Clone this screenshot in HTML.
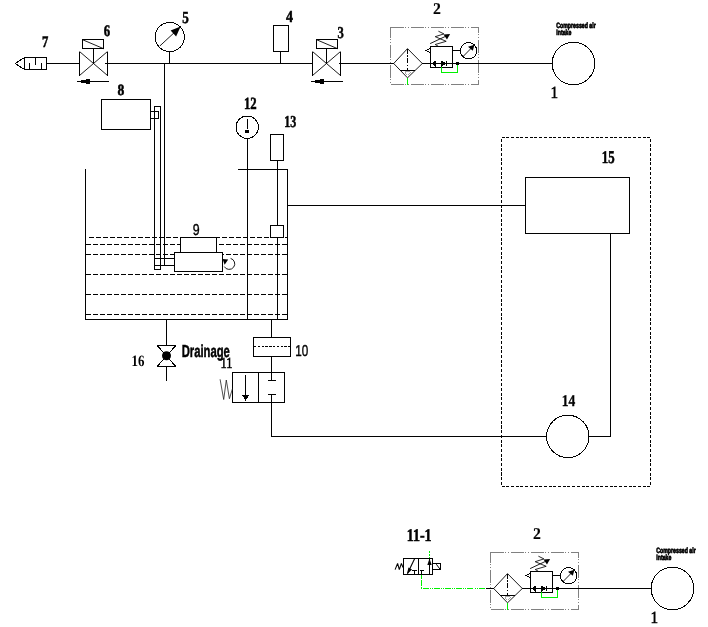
<!DOCTYPE html>
<html>
<head>
<meta charset="utf-8">
<title>Diagram</title>
<style>
html,body{margin:0;padding:0;background:#fff;}
body{width:708px;height:627px;overflow:hidden;position:relative;font-family:"Liberation Sans",sans-serif;}
svg{position:absolute;left:0;top:0;display:block;}
text{text-rendering:geometricPrecision;}
.k{stroke:#000;stroke-width:1;fill:none;stroke-linejoin:bevel;}
.kf{stroke:#000;stroke-width:1;fill:#fff;}
.g{stroke:#00f000;stroke-width:1;fill:none;}
.gr{stroke:#808080;stroke-width:1;fill:none;}
.b{fill:#000;stroke:none;}
.ser{font-family:"Liberation Serif",serif;font-weight:bold;font-size:15.5px;fill:#000;}
.serr{font-family:"Liberation Serif",serif;font-weight:normal;font-size:15.5px;fill:#000;}
.san{font-family:"Liberation Sans",sans-serif;fill:#000;}
</style>
</head>
<body>
<svg width="708" height="627" viewBox="0 0 708 627" shape-rendering="crispEdges">
<defs>
  <!-- solenoid shut-off valve, centred at 0,0 on the main line -->
  <g id="sv">
    <path class="k" d="M-14,-12 V12 M14,-12 V12"/>
    <path class="k" d="M-14,-12 L14,12 M-14,12 L14,-12" shape-rendering="auto" style="stroke-width:0.9"/>
    <path class="k" d="M0,0 V-14.7"/>
  </g>
  <g id="svs">
    <rect class="k" x="-11" y="-23.8" width="21.4" height="9.1"/>
    <path class="k" d="M-11,-23.8 L10.4,-14.7" shape-rendering="auto" style="stroke-width:0.9"/>
    <path class="k" d="M-16.5,18 H15.5"/>
    <path class="b" d="M-14,18 L-11.5,16.5 H-7.5 V15.5 H-3.5 V20.5 H-7.5 V19.5 H-11.5 Z"/>
  </g>
  <!-- FRL unit + source circle + labels (top instance coordinates) -->
  <g id="frl">
    <rect class="gr" x="390.5" y="27.5" width="88" height="57" stroke-dasharray="13 1.4 1.4 1.4 1.4 1.4" shape-rendering="crispEdges"/>
    <path class="k" d="M393.7,63.5 L407.5,48.6 L422.3,63.5 L407.5,77.8 Z" shape-rendering="auto" style="stroke-width:0.9"/>
    <path class="k" d="M407.5,48.6 V70" stroke-dasharray="5 1.5 1.5 1.5" shape-rendering="crispEdges"/>
    <path class="k" d="M400.4,70.5 H414.8" shape-rendering="crispEdges"/>
    <path class="gr" d="M405,71.5 L410.2,71.5 L407.6,74.6 Z" style="stroke-width:0.7"/>
    <path class="g" d="M407.5,78 V84.5" shape-rendering="crispEdges"/>
    <path class="k" d="M422.3,63.5 H430.5" shape-rendering="crispEdges"/>
    <rect class="k" x="430.5" y="46.5" width="22" height="21"/>
    <path class="k" d="M430.5,63.5 H452.5" shape-rendering="crispEdges"/>
    <path class="b" d="M431,63.5 L436,60.5 L436,66.5 Z"/>
    <path class="k" d="M435.5,61 V67 M441.5,61 V67"/>
    <path class="b" d="M446.5,63.5 L441,60.5 L441,66.5 Z"/>
    <path class="k" d="M446.5,61 V66"/>
    <path class="k" d="M430.5,48.5 L425.5,50.5 L430.5,52.7" stroke-linejoin="bevel"/>
    <!-- spring with arrow -->
    <path class="k" d="M430.1,43.6 L448,35.2" shape-rendering="auto" style="stroke-width:0.9"/>
    <path class="b" d="M450.1,34.1 L443.5,34.6 L447,39.5 Z" shape-rendering="auto"/>
    <path class="k" d="M438.4,46.3 L435.2,44.5 L446.2,41.3 L435.2,36.7 L443.9,33.9 L438.4,31.2" shape-rendering="auto" style="stroke-width:0.85"/>
    <path class="k" d="M452.5,50.5 H460.5" shape-rendering="crispEdges"/>
    <circle class="k" cx="468.6" cy="50.8" r="8.2"/>
    <path class="k" d="M463.2,56.4 L473,46.4" shape-rendering="auto" style="stroke-width:0.9"/>
    <path class="b" d="M474.5,44.8 L468,46.8 L472.8,50.8 Z" shape-rendering="auto"/>
    <rect class="b" x="456" y="62" width="3" height="3" shape-rendering="crispEdges"/>
    <path class="g" d="M441.5,67.3 V72.5 H457.5 V64.6" shape-rendering="crispEdges"/>
    <text font-family="Liberation Serif" font-weight="normal" font-size="15.5" fill="#000" stroke="#000" stroke-width="0.5" transform="translate(550.39,97.53) scale(0.983,1.098)">1</text>
    <text class="san" font-weight="bold" font-size="6.4" stroke="#000" stroke-width="0.6" transform="translate(556.3,27.5) scale(0.815,1.2)">Compressed air</text>
    <text class="san" font-weight="bold" font-size="6.4" stroke="#000" stroke-width="0.6" transform="translate(556.3,35.2) scale(0.815,1.2)">Intake</text>
    <text font-family="Liberation Serif" font-weight="bold" font-size="15.5" fill="#000" stroke="#000" stroke-width="0.15" transform="translate(433.07,14.2) scale(1.015,1.06)">2</text>
  </g>
</defs>
<g style="opacity:0.999">

<!-- main supply line -->
<g shape-rendering="crispEdges">
  <path class="k" d="M46.5,63.5 H79.1 M105,63.5 H312.2 M338.5,63.5 H393.7"/>
  <!-- muffler 7 -->
  <rect class="k" x="24.5" y="57.5" width="22" height="12"/>
  <path class="k" d="M29.5,69.5 V63 M41.5,69.5 V63 M35.5,57.5 V64.5"/>
  <!-- box 4 -->
  <rect class="k" x="273.5" y="25.5" width="15" height="26"/>
  <path class="k" d="M280.5,51.5 V63.5"/>
  <!-- gauge 5 stem -->
  <path class="k" d="M169.5,51.5 V63.5"/>
  <!-- vertical from T -->
  <path class="k" d="M164.5,63.5 V265.5"/>
  <!-- box 8 -->
  <rect class="k" x="101.5" y="99.5" width="49" height="30"/>
  <rect class="k" x="150.5" y="111.5" width="8" height="7"/>
  <path class="k" d="M154.5,269.5 V106.5 H160.5 V269.5 Z"/>
</g>
<path class="k" d="M15.2,63.5 L24.5,57.5 M15.2,63.5 L24.5,69.5"/>
<use href="#sv" x="93.5" y="63.5"/>
<use href="#svs" x="93.5" y="63.5"/>
<use href="#sv" x="326.5" y="63.5"/>
<use href="#svs" x="327.5" y="63.5"/>
<circle class="k" cx="169.7" cy="37" r="14.6"/>
<path class="k" d="M159.8,46 L179,28.2" shape-rendering="auto" style="stroke-width:0.9"/>
<path class="b" d="M180.6,26.6 L170.6,30.6 L176.1,36.4 Z" shape-rendering="auto"/>

<use href="#frl"/>
<use href="#frl" x="100" y="525"/>
<path class="k" d="M452.5,63.5 H552 M552.5,588.5 H651"/>
<circle class="k" cx="573.4" cy="63.5" r="21.3"/>
<circle class="k" cx="672.4" cy="588.5" r="21.3"/>

<!-- tank -->
<g shape-rendering="crispEdges">
  <path class="k" d="M85.5,169 V319.5 H287.5 V169.5 H238" />
  <g class="k" stroke-dasharray="5 2">
    <path d="M89,237.5 H287"/>
    <path d="M86,244.5 H287"/>
    <path d="M86,254.5 H287"/>
    <path d="M86,274.5 H287"/>
    <path d="M86,294.5 H287"/>
    <path d="M86,314.5 H287"/>
  </g>
  <!-- pump 9 -->
  <rect class="kf" x="180.5" y="237.5" width="36" height="15"/>
  <rect class="kf" x="174.5" y="252.5" width="48" height="19"/>
  <path class="k" d="M154.5,258.5 H174.5 M154.5,265.5 H174.5"/>
  <!-- 12 line -->
  <path class="k" d="M247.5,138.5 V319.5"/>
  <!-- 13 -->
  <rect class="k" x="270.5" y="134.5" width="13" height="26"/>
  <path class="k" d="M277.5,160.5 V225.5 M277.5,237.5 V319.5"/>
  <rect class="kf" x="270.5" y="225.5" width="13" height="12"/>
  <!-- to 15 -->
  <path class="k" d="M287.5,205.5 H525.5"/>
  <rect class="k" x="525.5" y="177.5" width="104" height="56"/>
  <path class="k" d="M610.5,233.5 V436.5 H589 M546.6,436.5 H271.5 V402.5"/>
  <!-- dashed enclosure -->
  <rect class="k" x="501.5" y="137.5" width="149" height="349" stroke-dasharray="3 1.7"/>
  <!-- below tank -->
  <path class="k" d="M271.5,319.5 V337.5 M271.5,356.5 V372.5"/>
  <rect class="k" x="253.5" y="337.5" width="37" height="19"/>
  <path class="k" d="M254,346.5 H290" stroke-dasharray="2.4 1.4"/>
  <!-- valve 11 -->
  <rect class="k" x="232.5" y="372.5" width="52" height="30"/>
  <path class="k" d="M258.5,372.5 V402.5 M245.5,374.5 V396 M271.5,372.5 V380.5 M268,380.5 H276 M268,394.5 H276 M271.5,394.5 V402.5"/>
  <!-- drain -->
  <path class="k" d="M166.5,319.5 V345.5 M166.5,366.5 V380.5"/>
  <!-- circle 12 internals -->
  <path class="k" d="M247.5,119 V129"/>
  <rect class="b" x="245" y="130" width="4" height="3"/>
</g>
<path class="b" d="M245.5,401 L242.4,395.4 L248.9,395.4 Z"/>
<path class="k" d="M220.1,379.3 L223.7,399.5 L226.3,380 L229.4,398.7 L232.5,388.6" style="stroke:#222;stroke-width:0.8" shape-rendering="auto"/>
<circle class="k" cx="247.2" cy="127.2" r="11.2"/>
<circle class="k" cx="567.8" cy="436.4" r="21.2"/>
<!-- rotation arrow -->
<path class="k" d="M230.6,258.4 A5.6,5.6 0 1 1 224.3,266.6" shape-rendering="auto" style="stroke-width:0.9"/>
<path class="b" d="M222.6,259 L228.2,259.4 L224.6,264.8 Z" shape-rendering="auto"/>
<!-- drain valve 16 -->
<path class="k" d="M157.2,345.5 H175.8 L157.2,366.5 H175.8 Z"/>
<circle class="b" cx="166.5" cy="355.8" r="4.5" shape-rendering="auto"/>

<!-- 11-1 valve -->
<g>
  <rect class="k" x="403.5" y="558.5" width="29" height="16"/>
  <path class="k" d="M418.5,558.5 V574.5"/>
  <path class="k" d="M412,570.5 H417 M414.5,570.5 V574.5 M420,570.5 H424 M421.5,570.5 V574.5 M429.5,558.5 V574.5"/>
  <rect class="k" x="432.5" y="563.5" width="8" height="6"/>
  <path class="g" d="M429.5,551 V558" stroke-dasharray="1.5 1.2 2.5 1"/>
  <path class="g" d="M421.5,575 V588.5 H486" stroke-dasharray="3.6 1.2 6 1.2 1.5 1.1 6 1.1 1 1.1 1 1 6 1.1 1 1.1 1 1 6 1.1 1 1.1 1 1 6 1.1 1 1.1 1 1 6 1.1 1 1.1 1 1 6 1.1 1 1.1 1 1"/>
  <path class="k" d="M486,588.5 H493.7"/>
</g>
<g shape-rendering="auto">
<path class="k" d="M407.5,573.6 L414.6,558.8" style="stroke-width:1.1"/>
<path class="b" d="M406.9,574.4 L408.4,567.6 L412,569.4 Z"/>
<path class="b" d="M429.5,558.6 L427.3,565 L431.7,565 Z"/>
<path class="k" d="M436.3,564.2 L440,569.2"/>
<path class="k" d="M395.1,569.6 L397.6,563.4 L399.3,569.6 L401.4,563.4 L403,567.5" style="stroke-width:1.1"/>
</g>

<!-- labels -->
<g>
<text font-family="Liberation Serif" font-weight="bold" font-size="15.5" fill="#000" stroke="#000" stroke-width="0.5" transform="translate(42.09,46.64) scale(0.814,1.023)">7</text>
<text font-family="Liberation Serif" font-weight="bold" font-size="15.5" fill="#000" stroke="#000" stroke-width="0.5" transform="translate(103.79,35.71) scale(0.828,1.036)">6</text>
<text font-family="Liberation Serif" font-weight="bold" font-size="15.5" fill="#000" stroke="#000" stroke-width="0.5" transform="translate(182.28,22.69) scale(0.843,1.094)">5</text>
<text font-family="Liberation Serif" font-weight="bold" font-size="15.5" fill="#000" stroke="#000" stroke-width="0.5" transform="translate(286.0,21.63) scale(0.903,1.088)">4</text>
<text font-family="Liberation Serif" font-weight="bold" font-size="15.5" fill="#000" stroke="#000" stroke-width="0.5" transform="translate(337.49,38.39) scale(0.814,1.082)">3</text>
<text font-family="Liberation Serif" font-weight="bold" font-size="15.5" fill="#000" stroke="#000" stroke-width="0.5" transform="translate(117.58,94.62) scale(0.883,1.009)">8</text>
<text font-family="Liberation Serif" font-weight="bold" font-size="15.5" fill="#000" stroke="#000" stroke-width="0.5" transform="translate(243.88,108.82) scale(0.821,1.103)">12</text>
<text font-family="Liberation Serif" font-weight="bold" font-size="15.5" fill="#000" stroke="#000" stroke-width="0.5" transform="translate(284.22,126.69) scale(0.779,1.082)">13</text>
<text font-family="Liberation Sans" font-weight="normal" font-size="15.5" fill="#000" stroke="#000" stroke-width="0.4" transform="translate(192.7,235.05) scale(0.8,1.013)">9</text>
<text font-family="Liberation Serif" font-weight="bold" font-size="15.5" fill="#000" stroke="#000" stroke-width="0.5" transform="translate(601.87,162.77) scale(0.828,1.149)">15</text>
<text font-family="Liberation Serif" font-weight="bold" font-size="15.5" fill="#000" stroke="#000" stroke-width="0.3" transform="translate(561.72,406.07) scale(0.87,1.064)">14</text>
<text font-family="Liberation Serif" font-weight="bold" font-size="15.5" fill="#000" stroke="#000" stroke-width="0.0" transform="translate(131.55,365.87) scale(0.836,1.019)">16</text>
<text font-family="Liberation Serif" font-weight="normal" font-size="15.5" fill="#000" stroke="#000" stroke-width="0.55" transform="translate(220.5,367.8) scale(0.8,0.99)">11</text>
<text font-family="Liberation Sans" font-weight="normal" font-size="15.5" fill="#000" stroke="#000" stroke-width="0.4" transform="translate(295.14,356.25) scale(0.756,1.013)">10</text>
<text font-family="Liberation Serif" font-weight="bold" font-size="15.5" fill="#000" stroke="#000" stroke-width="0.5" transform="translate(406.7,540.91) scale(0.904,1.153)">11-1</text>
<text class="san" font-weight="bold" font-size="15" stroke="#000" stroke-width="0.45" transform="translate(181.7,356.6) scale(0.75,1.16)">Drainage</text>
</g>
</g>
</svg>
</body>
</html>
